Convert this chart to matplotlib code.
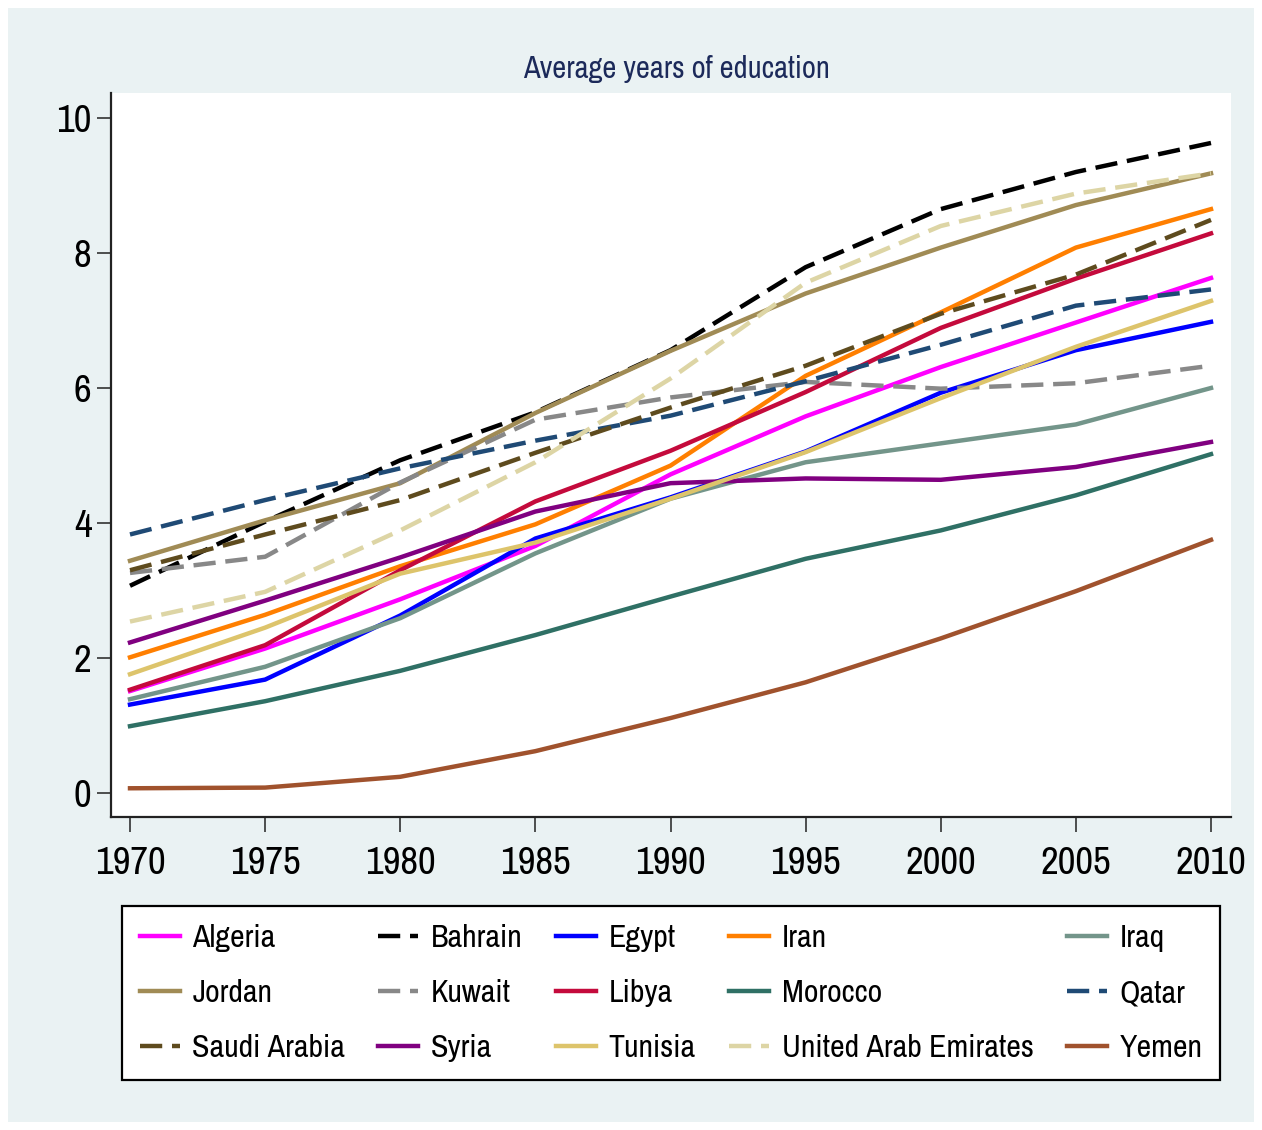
import matplotlib
matplotlib.use("Agg")
import matplotlib.pyplot as plt
from matplotlib.patches import Rectangle
from matplotlib import font_manager

# ---------------- data ----------------
years = [1970, 1975, 1980, 1985, 1990, 1995, 2000, 2005, 2010]

countries = ["Algeria", "Bahrain", "Egypt", "Iran", "Iraq",
             "Jordan", "Kuwait", "Libya", "Morocco", "Qatar",
             "Saudi Arabia", "Syria", "Tunisia", "United Arab Emirates", "Yemen"]

algeria = [1.51, 2.14, 2.87, 3.66, 4.72, 5.58, 6.31, 6.97, 7.63]
bahrain = [3.07, 4.02, 4.93, 5.64, 6.56, 7.79, 8.65, 9.20, 9.63]
egypt = [1.31, 1.68, 2.63, 3.77, 4.38, 5.06, 5.93, 6.56, 6.98]
iran = [2.01, 2.64, 3.36, 3.98, 4.85, 6.18, 7.12, 8.08, 8.65]
iraq = [1.39, 1.87, 2.59, 3.55, 4.36, 4.90, 5.18, 5.46, 6.00]
jordan = [3.44, 4.04, 4.59, 5.63, 6.55, 7.40, 8.08, 8.71, 9.18]
kuwait = [3.26, 3.50, 4.60, 5.53, 5.86, 6.09, 5.99, 6.07, 6.33]
libya = [1.53, 2.19, 3.30, 4.32, 5.07, 5.94, 6.89, 7.62, 8.29]
morocco = [0.99, 1.36, 1.81, 2.34, 2.91, 3.47, 3.89, 4.41, 5.02]
qatar = [3.83, 4.34, 4.81, 5.22, 5.59, 6.10, 6.64, 7.22, 7.46]
saudi = [3.30, 3.83, 4.34, 5.04, 5.71, 6.33, 7.10, 7.68, 8.49]
syria = [2.23, 2.85, 3.49, 4.17, 4.59, 4.66, 4.64, 4.83, 5.20]
tunisia = [1.76, 2.45, 3.25, 3.71, 4.36, 5.05, 5.85, 6.61, 7.29]
uae = [2.54, 2.98, 3.89, 4.90, 6.14, 7.56, 8.40, 8.88, 9.18]
yemen = [0.07, 0.08, 0.24, 0.62, 1.11, 1.64, 2.29, 2.99, 3.75]

series = [algeria, bahrain, egypt, iran, iraq, jordan, kuwait, libya,
          morocco, qatar, saudi, syria, tunisia, uae, yemen]

colors = ["#FF00FF", "#000000", "#0000FF", "#FF7F00", "#73958A",
          "#A08B55", "#888888", "#C40A3C", "#2F7065", "#1F4A75",
          "#5E4B1E", "#800080", "#DDC46B", "#DDD5A5", "#A0522D"]
dashed = [False, True, False, False, False,
          False, True, False, False, True,
          True, False, False, True, False]

y_ticks = [0, 2, 4, 6, 8, 10]
title = "Average years of education"

# ---------------- fonts ----------------
avail = {f.name for f in font_manager.fontManager.ttflist}
prefs = ["Liberation Sans Narrow", "Arial Narrow", "Archivo Narrow",
         "Roboto Condensed", "PT Sans Narrow", "Pragati Narrow",
         "Open Sans Condensed", "Encode Sans Condensed", "IBM Plex Sans Condensed",
         "Fira Sans Condensed", "Barlow Semi Condensed", "Asap Condensed"]
chosen = [f for f in prefs if f in avail]
fam = (chosen[:1] or ["Liberation Sans"]) + ["DejaVu Sans"]
plt.rcParams["font.family"] = fam
narrow = bool(chosen)

W, H = 1262, 1130
fig = plt.figure(figsize=(W / 100, H / 100), dpi=100, facecolor="white")
bg = Rectangle((8 / W, 8 / H), (1254 - 8) / W, (1122 - 8) / H,
               transform=fig.transFigure, facecolor="#EAF2F3",
               edgecolor="none", zorder=-10)
fig.add_artist(bg)

left, right, top, bottom = 111, 1231, 93, 817
ax = fig.add_axes([left / W, 1 - bottom / H, (right - left) / W, (bottom - top) / H])
ax.set_zorder(1)
ax.set_facecolor("white")

lw = 3.2
lines = []
for name, vals, c, d in zip(countries, series, colors, dashed):
    if d:
        ln, = ax.plot(years, vals, color=c, lw=lw, dashes=(5.0, 2.2),
                      dash_capstyle="butt", label=name)
    else:
        ln, = ax.plot(years, vals, color=c, lw=lw, label=name)
    lines.append(ln)

x0 = 1970 - 19 / 27.025
x1 = 2010 + 20 / 27.025
ax.set_xlim(x0, x1)
ax.set_ylim(-24 / 67.5, 10 + 25 / 67.5)
ax.set_xticks(years)
ax.set_xticklabels([str(y) for y in years])
ax.set_yticks(y_ticks)
ax.set_yticklabels([str(v) for v in y_ticks])

for s in ["top", "right"]:
    ax.spines[s].set_visible(False)
for s in ["left", "bottom"]:
    ax.spines[s].set_color("#222222")
    ax.spines[s].set_linewidth(1.6)

tsize = 28 if narrow else 24
ax.tick_params(axis="x", direction="out", length=11, width=1.1, color="#222222",
               labelsize=tsize, pad=10, labelcolor="black")
ax.tick_params(axis="y", direction="out", length=10, width=1.1, color="#222222",
               labelsize=tsize, pad=4, labelcolor="black")

fig.text((left + right) / 2 / W + 0.004, 1 - 69 / H, title, ha="center", va="center",
         fontsize=22 if narrow else 18, color="#1C2A5A")

# legend in row-major order
nrow, ncol = 3, 5
order = [r * ncol + c for c in range(ncol) for r in range(nrow)]
handles = [lines[i] for i in order]
labels = [countries[i] for i in order]
lx0, lx1, ly0, ly1 = 122, 1220, 902, 1084
lsize = 23 if narrow else 19
leg = fig.legend(handles, labels, ncol=ncol, loc="center",
                 bbox_to_anchor=(lx0 / W, 1 - ly1 / H, (lx1 - lx0) / W, (ly1 - ly0) / H),
                 mode="expand", fontsize=lsize, frameon=True, fancybox=False,
                 edgecolor="black", facecolor="white", framealpha=1,
                 handlelength=1.25, handletextpad=0.4, columnspacing=1.0,
                 labelspacing=0.85, borderpad=0.55, borderaxespad=0)
leg.get_frame().set_linewidth(1.6)
leg.set_zorder(2)

fig.savefig("out.png", dpi=100, facecolor="white")
